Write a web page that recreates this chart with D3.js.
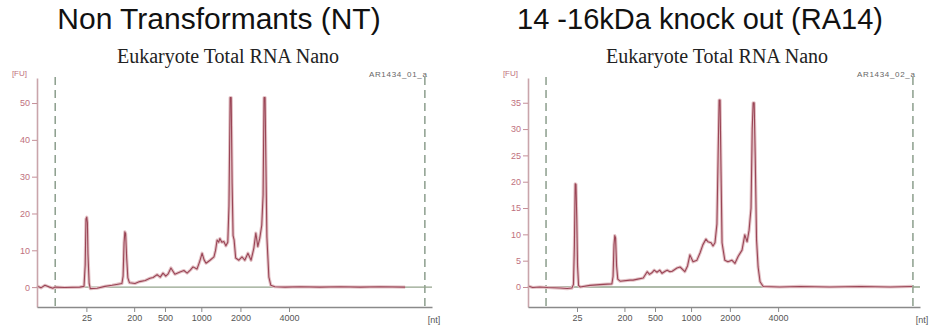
<!DOCTYPE html>
<html>
<head>
<meta charset="utf-8">
<script src="https://cdn.jsdelivr.net/npm/d3@7"></script>
<style>
  body { margin: 0; background: #fff; }
  svg { display: block; }
</style>
</head>
<body>
<div id="chart"></div>
<script>
// migration time window (s) and ladder calibration
const timeDomain = [19, 69];
const ladderNt = [25, 200, 500, 1000, 2000, 4000];
const ladderTime = [25.25, 31.3, 35.2, 39.8, 44.75, 50.9];
const windowTimes = [21.3, 68.1];

// sample 1: Non Transformants, [time, FU]
const ntTrace = [
  [19.0, 0.3], [19.5, -0.2], [20.0, 0.5], [20.6, 0.0], [21.0, -0.3], [21.3, 0.0],
  [22.5, -0.1], [24.4, 0.0], [24.95, 0.2], [25.1, 6], [25.2, 18.5], [25.3, 19],
  [25.38, 17.5], [25.45, 9], [25.6, 1], [25.75, -0.4], [26.6, -0.3], [27.6, 0.2],
  [28.5, 0.5], [29.25, 0.8], [29.75, 1.0], [29.9, 3], [30.02, 12], [30.12, 15],
  [30.22, 14.5], [30.35, 8], [30.5, 2.5], [30.7, 1.2], [31.4, 1.0], [32.0, 1.5],
  [32.7, 1.8], [33.3, 2.4], [33.7, 2.6], [34.2, 3.4], [34.6, 2.7], [34.95, 3.8],
  [35.3, 3.0], [35.6, 3.6], [35.95, 5.2], [36.45, 3.5], [37.1, 4.1], [37.6, 4.5],
  [38.0, 3.8], [38.4, 4.6], [38.75, 5.5], [39.25, 4.9], [39.6, 7], [39.9, 9.2],
  [40.15, 7.4], [40.4, 6.5], [40.9, 7.3], [41.4, 8.2], [41.6, 10], [41.8, 12.8],
  [42.0, 12.2], [42.15, 13.2], [42.4, 12.2], [42.65, 12.4], [42.9, 11.2], [43.15, 12.2],
  [43.3, 22], [43.45, 51.5], [43.58, 51.5], [43.7, 28], [43.82, 14], [43.95, 12.8],
  [44.15, 7.9], [44.55, 7.3], [44.95, 8.2], [45.3, 7.3], [45.7, 9.2], [46.1, 7.3],
  [46.45, 10.6], [46.7, 14.7], [46.95, 11], [47.2, 13.3], [47.45, 16.8], [47.62, 25],
  [47.74, 51.5], [47.87, 51.5], [47.98, 33], [48.1, 13.6], [48.35, 2.7], [48.6, 0.5],
  [49.1, 0.1], [50.4, 0.0], [52.3, 0.1], [54.8, 0.0], [57.4, 0.1], [59.9, 0.0],
  [62.4, 0.1], [65.6, 0.0]
];

// sample 2: 14-16kDa knock out, [time, FU]
const ra14Trace = [
  [19.0, 0.2], [19.6, -0.1], [20.5, 0.0], [21.5, -0.1], [23.1, -0.2], [24.0, -0.3],
  [24.6, -0.2], [24.8, 0.5], [24.92, 8], [25.02, 19.6], [25.12, 19.5], [25.22, 13],
  [25.32, 4], [25.45, 0.3], [25.65, 0.0], [26.9, 0.3], [28.6, 0.5], [29.7, 0.6],
  [29.85, 2], [29.97, 8], [30.07, 9.75], [30.17, 9.3], [30.3, 4], [30.45, 1.5],
  [30.75, 1.1], [32.0, 1.3], [32.4, 1.3], [33.0, 1.5], [33.7, 1.7], [34.2, 2.9],
  [34.5, 2.4], [34.8, 2.7], [35.1, 3.2], [35.45, 2.8], [35.8, 3.2], [36.1, 2.6],
  [36.5, 3.0], [36.75, 3.2], [37.1, 2.9], [37.4, 3.0], [38.0, 3.6], [38.4, 3.8],
  [39.0, 2.9], [39.35, 4.0], [39.65, 6.1], [40.05, 4.8], [40.55, 5.1], [40.95, 6.5],
  [41.3, 8.0], [41.7, 9.1], [41.95, 8.6], [42.35, 8.4], [42.6, 7.8], [42.85, 8.4],
  [43.1, 12], [43.25, 25], [43.38, 35.5], [43.5, 35.5], [43.62, 22], [43.75, 8.4],
  [44.1, 5.1], [44.5, 4.8], [45.0, 5.1], [45.4, 4.5], [45.8, 5.8], [46.3, 7.0],
  [46.65, 9.9], [46.95, 8.6], [47.2, 10.8], [47.45, 15], [47.6, 30], [47.72, 35],
  [47.85, 35], [47.98, 25], [48.15, 9], [48.35, 3.8], [48.6, 1.0], [49.0, 0.1],
  [51.1, 0.0], [53.7, 0.1], [57.5, 0.0], [61.4, 0.1], [65.2, 0.0], [68.0, 0.1]
];

const ntYTicks = [0, 10, 20, 30, 40, 50];
const ra14YTicks = [0, 5, 10, 15, 20, 25, 30, 35];

const panels = [
  { title: "Non Transformants (NT)", titleX: 219, titleSize: 30, subX: 228, sample: "AR1434_01_a",
    left: 37, right: 432, yDomain: [-5.4, 56.8], yTicks: ntYTicks, trace: ntTrace },
  { title: "14 -16kDa knock out (RA14)", titleX: 700, titleSize: 29, subX: 717, sample: "AR1434_02_a",
    left: 528, right: 920, yDomain: [-3.8, 39.7], yTicks: ra14YTicks, trace: ra14Trace }
];

const W = 930, H = 331;
const yBottom = 307, yTop = 78;

const svg = d3.select("#chart")
    .append("svg")
    .attr("width", W)
    .attr("height", H);

panels.forEach(drawPanel);

function drawPanel(p) {
    const x = d3.scaleLinear().domain(timeDomain).range([p.left, p.right]);
    const y = d3.scaleLinear().domain(p.yDomain).range([yBottom, yTop]);
    const g = svg.append("g");

    g.append("text")
        .attr("x", p.titleX).attr("y", 29)
        .attr("text-anchor", "middle")
        .style("font", p.titleSize + "px 'Liberation Sans', Arial, sans-serif")
        .attr("fill", "#111")
        .text(p.title);

    g.append("text")
        .attr("x", p.subX).attr("y", 63)
        .attr("text-anchor", "middle")
        .style("font", "20px 'Liberation Serif', 'Times New Roman', serif")
        .attr("fill", "#222")
        .text("Eukaryote Total RNA Nano");

    g.append("text")
        .attr("x", x(windowTimes[1]) + 2).attr("y", 77)
        .attr("text-anchor", "end")
        .attr("textLength", 58)
        .style("font", "8px 'Liberation Sans', Arial, sans-serif")
        .attr("fill", "#666")
        .text(p.sample);

    // analysis window
    g.selectAll("line.win")
        .data(windowTimes)
        .enter().append("line")
        .attr("class", "win")
        .attr("x1", d => x(d)).attr("x2", d => x(d))
        .attr("y1", yTop - 1).attr("y2", yBottom)
        .attr("stroke", "#6f8670")
        .attr("stroke-width", 1.2)
        .attr("stroke-dasharray", "8,5");

    // baseline
    g.append("line")
        .attr("x1", x(windowTimes[0])).attr("x2", p.right)
        .attr("y1", y(0)).attr("y2", y(0))
        .attr("stroke", "#93a38c")
        .attr("stroke-width", 1.3);

    const line = d3.line()
        .x(d => x(d[0]))
        .y(d => y(d[1]));

    g.append("path")
        .datum(p.trace)
        .attr("d", line)
        .attr("fill", "none")
        .attr("stroke", "#e3c2c6")
        .attr("stroke-width", 3.2)
        .attr("stroke-linejoin", "round");

    g.append("path")
        .datum(p.trace)
        .attr("d", line)
        .attr("fill", "none")
        .attr("stroke", "#9a4556")
        .attr("stroke-width", 1.1)
        .attr("stroke-linejoin", "round");

    // y axis
    const yAxis = g.append("g")
        .attr("transform", `translate(${p.left},0)`)
        .call(d3.axisLeft(y).tickValues(p.yTicks).tickSize(5).tickSizeOuter(0).tickPadding(2));
    yAxis.select(".domain").attr("stroke", "#c9a5ab").attr("stroke-width", 1.6);
    yAxis.selectAll(".tick line").attr("stroke", "#c58f98");
    yAxis.selectAll(".tick text")
        .attr("fill", "#c0707e")
        .style("font", "9px 'Liberation Sans', Arial, sans-serif");

    g.append("text")
        .attr("x", p.left - 10).attr("y", 76)
        .attr("text-anchor", "end")
        .style("font", "8px 'Liberation Sans', Arial, sans-serif")
        .attr("fill", "#c0707e")
        .text("[FU]");

    // x axis
    const xAxis = g.append("g")
        .attr("transform", `translate(0,${yBottom})`)
        .call(d3.axisBottom(x).tickValues(ladderTime)
            .tickFormat((d, i) => ladderNt[i])
            .tickSize(5).tickSizeOuter(0).tickPadding(3));
    xAxis.select(".domain").attr("stroke", "#8a8a8a").attr("stroke-width", 1.5);
    xAxis.selectAll(".tick line").attr("stroke", "#8a8a8a");
    xAxis.selectAll(".tick text")
        .attr("fill", "#555")
        .style("font", "9px 'Liberation Sans', Arial, sans-serif");

    g.append("text")
        .attr("x", p.right + 2).attr("y", 323)
        .attr("text-anchor", "middle")
        .style("font", "9px 'Liberation Sans', Arial, sans-serif")
        .attr("fill", "#555")
        .text("[nt]");
}
</script>
</body>
</html>
